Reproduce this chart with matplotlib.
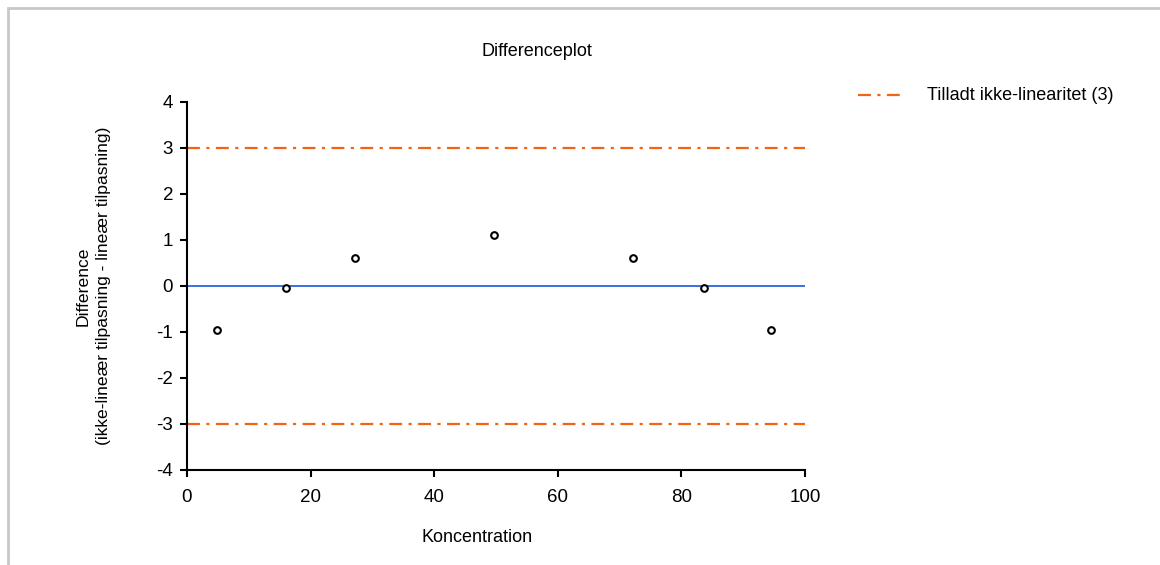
"""Differenceplot : ikke-lineær minus lineær tilpasning mod koncentration."""
import matplotlib

matplotlib.use("Agg")
import matplotlib.pyplot as plt  # noqa: E402
from matplotlib.lines import Line2D  # noqa: E402
from matplotlib.patches import Rectangle  # noqa: E402

# data
koncentration = [4.9, 16.1, 27.2, 49.7, 72.2, 83.7, 94.5]
difference = [-0.95, -0.05, 0.6, 1.1, 0.6, -0.05, -0.95]
graense = 3
x_ticks = [0, 20, 40, 60, 80, 100]
y_ticks = [-4, -3, -2, -1, 0, 1, 2, 3, 4]

ORANGE = "#F06414"
BLUE = "#3B6FE0"
DASHDOT = (0, (5.8, 2.9, 1.4, 2.9))

plt.rcParams["font.family"] = ["Liberation Sans", "DejaVu Sans"]
plt.rcParams["axes.unicode_minus"] = False

fig = plt.figure(figsize=(11.6, 5.65), dpi=100)
# grå ramme om hele diagrammet
fig.patches.append(Rectangle((8 / 1160, -0.1), 1.2, 1.1 - 8 / 565,
                             transform=fig.transFigure, fill=False,
                             edgecolor="#c8c8c8", linewidth=2))

ax = fig.add_axes([187 / 1160, 1 - 470 / 565, (805 - 187) / 1160, (470 - 102) / 565])
ax.set_xlim(0, 100)
ax.set_ylim(-4, 4)

ax.axhline(0, color=BLUE, linewidth=1.4, zorder=2)
ax.axhline(graense, color=ORANGE, linewidth=1.6, linestyle=DASHDOT, zorder=2)
ax.axhline(-graense, color=ORANGE, linewidth=1.6, linestyle=DASHDOT, zorder=2)
ax.plot(koncentration, difference, linestyle="none", marker="o", markersize=4.8,
        markerfacecolor="white", markeredgecolor="black", markeredgewidth=1.5, zorder=3)

for s in ("top", "right"):
    ax.spines[s].set_visible(False)
for s in ("left", "bottom"):
    ax.spines[s].set_linewidth(1.5)

ax.set_xticks(x_ticks)
ax.set_yticks(y_ticks)
ax.tick_params(axis="both", direction="out", length=5, width=1.5, labelsize=13.5, colors="black")
ax.tick_params(axis="x", pad=9)
ax.tick_params(axis="y", pad=5)

fig.text(537 / 1160, 1 - 52 / 565, "Differenceplot", ha="center", va="center", fontsize=13)
fig.text(477 / 1160, 1 - 537 / 565, "Koncentration", ha="center", va="center", fontsize=13)
fig.text(93 / 1160, 1 - 286 / 565, "Difference\n(ikke-lineær tilpasning - lineær tilpasning)",
         ha="center", va="center", rotation=90, fontsize=12.6, linespacing=1.45)

# forklaring
fig.add_artist(Line2D([858 / 1160, 900 / 1160], [1 - 95 / 565, 1 - 95 / 565],
                      transform=fig.transFigure, color=ORANGE, linewidth=1.6, linestyle=DASHDOT))
fig.text(927 / 1160, 1 - 95 / 565, "Tilladt ikke-linearitet (3)", ha="left", va="center", fontsize=13)

fig.savefig("out.png", dpi=100)
